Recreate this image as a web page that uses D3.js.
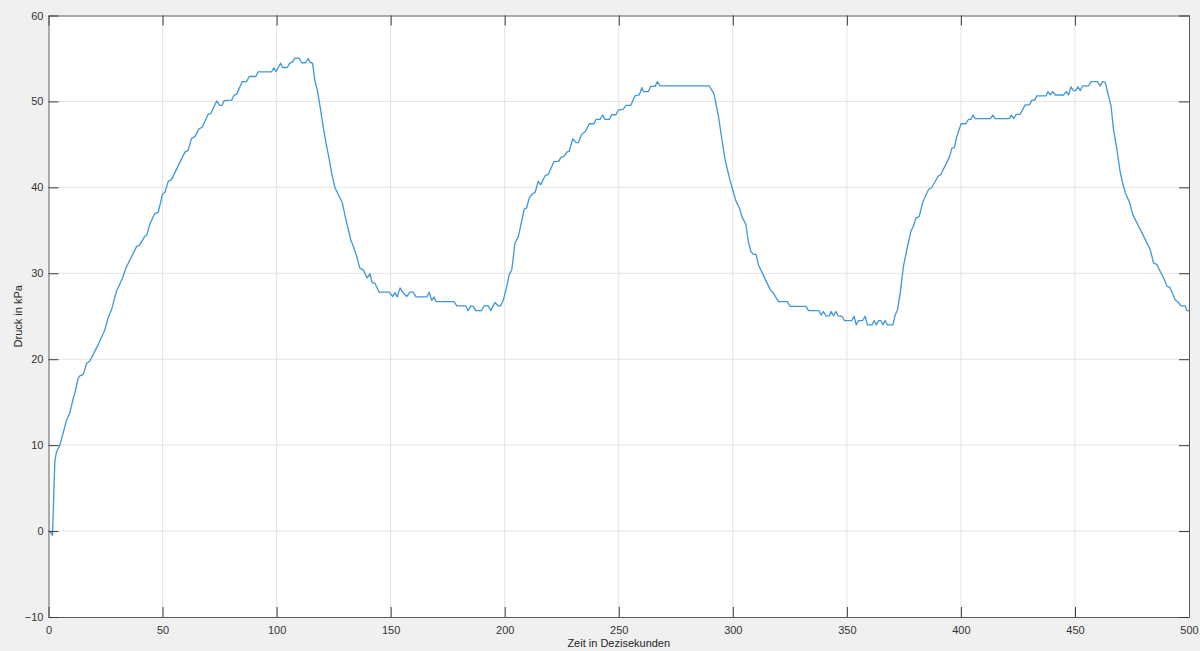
<!DOCTYPE html>
<html>
<head>
<meta charset="utf-8">
<script src="https://cdnjs.cloudflare.com/ajax/libs/d3/7.8.5/d3.min.js"></script>
<style>
  body { margin: 0; background: #f0f0f0; }
  svg { display: block; font-family: "Liberation Sans", Arial, sans-serif; }
  .tick text { fill: #333; font-size: 11px; }
</style>
</head>
<body>
<svg id="chart" width="1200" height="651"></svg>
<script>
// Zeit in Dezisekunden / Druck in kPa
const zeit = [0, 0.6, 1.75, 2.8, 3.5, 5, 6.4, 7.9, 9.3, 10.8, 11.5, 13, 13.7, 15.2, 16.7, 18.1, 21.8, 24.7, 26.1, 27.6, 29.8, 32.5, 33.9, 38.6, 40, 42.2, 43, 44.4, 46.6, 48.1, 50, 51, 52.5, 53.9, 59.8, 61.2, 62.7, 64.2, 65.9, 67.4, 70, 71.2, 73.7, 75.1, 76.1, 77, 80.3, 81.3, 82.5, 84.9, 86.8, 88, 90.9, 91.9, 97.8, 98.8, 99.7, 101.8, 102.6, 104.7, 105.8, 107, 108, 109.9, 111, 112.7, 113.9, 114.6, 115.8, 116.8, 117.8, 119, 120.4, 121.9, 123.1, 124.1, 125.6, 127, 128.8, 130.7, 132.5, 133.9, 135.1, 136.5, 138, 139.7, 140.9, 141.9, 143.1, 145, 149.4, 150.9, 151.9, 152.9, 154.1, 155.3, 157, 158.5, 159.9, 161.1, 165.8, 166.9, 168, 169, 169.9, 177.8, 179, 183, 184, 185.2, 186.2, 187.3, 189.9, 190.9, 192.8, 193.9, 195.7, 197.2, 198.2, 199.4, 200.9, 202, 203.1, 204.5, 206, 208.6, 209.6, 210.8, 212.1, 213.3, 214.7, 215.8, 217.7, 219.1, 221.6, 223.8, 224.6, 226, 227.2, 228.3, 229.8, 231.3, 232.3, 233.8, 235.2, 237.1, 239.2, 240, 241.8, 243, 244, 245.9, 246.9, 248.8, 249.8, 252, 253.2, 255.3, 257.1, 259, 260.1, 260.8, 263, 264, 265.9, 266.9, 268.1, 289.7, 291.8, 293.7, 295.2, 296.6, 298.5, 300.3, 301.4, 302.9, 304.2, 305.7, 306.8, 307.9, 309, 310.2, 311.2, 316.4, 317.8, 320, 323.9, 325.1, 332.1, 333.2, 337.8, 338.7, 339.7, 340.9, 342.4, 343.1, 344.1, 345.2, 346.1, 347.8, 349, 352.2, 353.2, 354.1, 355.1, 357, 358, 359, 361, 362, 362.9, 363.9, 364.9, 365.8, 366.8, 367.8, 370.2, 371.2, 372.2, 373.4, 374.8, 376.3, 378.1, 379.2, 380.3, 381.7, 383.2, 385.8, 387, 390.2, 391.2, 395, 396.1, 397.1, 398.2, 400.1, 402.2, 403.3, 404.4, 405.3, 406.3, 412.9, 414, 415, 421.2, 422.1, 423.1, 424.3, 426, 428.2, 430.1, 431.1, 432.3, 433.3, 437.4, 438.2, 439.2, 440.2, 441.4, 445, 446.2, 447.2, 448.2, 449.4, 450.4, 451.3, 452.3, 453.3, 456, 457, 459.9, 461.1, 462.1, 463.3, 464.7, 465.8, 466.9, 468.4, 469.9, 471.1, 472.1, 474, 475.4, 477.2, 479.4, 481.6, 483, 484.5, 486, 487.4, 488.9, 490.4, 491.5, 494, 495.4, 496.5, 498.4, 499.1, 500];
const druck = [0, 0, -0.5, 8.2, 9.2, 10, 11.4, 12.9, 13.7, 15.4, 16, 17.8, 18.05, 18.2, 19.5, 19.8, 21.7, 23.4, 24.8, 25.75, 27.9, 29.45, 30.6, 33.1, 33.3, 34.3, 34.4, 35.7, 36.95, 37.1, 39.2, 39.4, 40.7, 40.9, 44.1, 44.3, 45.7, 45.9, 46.8, 47, 48.5, 48.6, 50.05, 49.55, 49.55, 50.1, 50.15, 50.7, 50.85, 52.3, 52.3, 52.9, 52.9, 53.45, 53.45, 53.9, 53.45, 54.45, 53.95, 53.95, 54.45, 54.6, 55.05, 55.05, 54.5, 54.5, 55, 54.6, 54.4, 52.4, 51.4, 49.5, 47.1, 44.8, 43.25, 41.7, 39.95, 39.2, 38.2, 35.9, 33.9, 32.95, 32, 30.6, 30.4, 29.45, 29.95, 28.9, 28.85, 27.8, 27.8, 27.3, 27.75, 27.25, 28.3, 27.8, 27.3, 27.8, 27.8, 27.25, 27.25, 27.8, 26.85, 27.25, 26.7, 26.7, 26.2, 26.2, 25.65, 26.2, 26.15, 25.65, 25.65, 26.2, 26.2, 25.65, 26.6, 26.2, 26.2, 26.9, 28.45, 29.85, 30.4, 33.5, 34.3, 37.5, 37.6, 38.8, 39.25, 39.4, 40.7, 40.3, 41.35, 41.5, 43, 43.05, 43.5, 43.6, 44.1, 44.2, 45.65, 45.2, 45.2, 46.2, 46.45, 47.4, 47.4, 47.9, 47.9, 48.4, 47.9, 47.9, 48.45, 48.45, 49, 49.1, 49.55, 49.55, 50.65, 50.75, 51.6, 51.15, 51.15, 51.75, 51.75, 52.3, 51.8, 51.8, 50.85, 48.3, 45.6, 43.25, 41.1, 39.4, 38.4, 37.6, 36.45, 35.7, 33.7, 32.55, 32.2, 32.2, 31, 28.1, 27.7, 26.7, 26.7, 26.15, 26.15, 25.65, 25.65, 25.15, 25.55, 25.05, 25.05, 25.55, 25.05, 25.55, 25.05, 25, 24.5, 24.5, 25, 24, 24.5, 24.5, 25, 24, 24, 24.5, 24, 24.5, 24.5, 24, 24.5, 24, 24, 25.15, 25.75, 27.7, 30.8, 32.75, 34.9, 35.5, 36.45, 36.6, 38.2, 39.75, 39.9, 41.35, 41.5, 43.55, 44.6, 44.6, 45.9, 47.4, 47.4, 47.9, 47.9, 48.4, 48, 48, 48.4, 48, 48, 48.4, 48, 48.5, 48.5, 49.6, 49.6, 50.15, 50.15, 50.65, 50.65, 51.15, 50.75, 51.15, 50.75, 50.75, 51.15, 50.75, 51.7, 51.25, 51.25, 51.7, 51.25, 51.8, 51.8, 52.3, 52.3, 51.8, 52.3, 52.2, 50.65, 49.5, 46.75, 44.4, 41.7, 40.3, 39.35, 38.2, 36.8, 35.85, 34.7, 33.5, 32.75, 31.2, 31, 30.2, 29.45, 28.45, 28.4, 26.9, 26.6, 26.2, 26.2, 25.65, 25.65];

const xTicks = [0, 50, 100, 150, 200, 250, 300, 350, 400, 450, 500];
const yTicks = [-10, 0, 10, 20, 30, 40, 50, 60];

const plotL = 48.5, plotR = 1189, plotT = 15.5, plotB = 617;

const svg = d3.select("#chart");

const x = d3.scaleLinear().domain([0, 500]).range([plotL, plotR]);
const y = d3.scaleLinear().domain([-10, 60]).range([plotB, plotT]);

// plot area
svg.append("rect")
  .attr("x", plotL).attr("y", plotT)
  .attr("width", plotR - plotL).attr("height", plotB - plotT)
  .attr("fill", "#fff");

// grid
svg.append("g").selectAll("line").data(xTicks.slice(1, -1)).enter().append("line")
  .attr("x1", d => x(d)).attr("x2", d => x(d))
  .attr("y1", plotT).attr("y2", plotB)
  .attr("stroke", "#e3e3e3").attr("stroke-width", 1);
svg.append("g").selectAll("line").data(yTicks.slice(1, -1)).enter().append("line")
  .attr("y1", d => y(d)).attr("y2", d => y(d))
  .attr("x1", plotL).attr("x2", plotR)
  .attr("stroke", "#e3e3e3").attr("stroke-width", 1);

// the measured line
const line = d3.line().x((d, i) => x(zeit[i])).y(d => y(d));
svg.append("path")
  .datum(druck)
  .attr("d", line)
  .attr("fill", "none")
  .attr("stroke", "#3f97d8")
  .attr("stroke-width", 1.3)
  .attr("stroke-linejoin", "round");

// axes, ticks pointing inward like matlab
function styleAxis(g) {
  g.select(".domain").attr("stroke", "#5a5a5a");
  g.selectAll(".tick line").attr("stroke", "#3a3a3a");
}

svg.append("g")
  .attr("transform", `translate(0,${plotB})`)
  .call(d3.axisBottom(x).tickValues(xTicks).tickSizeInner(-10).tickSizeOuter(0).tickPadding(4))
  .call(styleAxis)
  .call(g => g.selectAll(".tick text").attr("y", 9).attr("dy", "0.71em"));

svg.append("g")
  .attr("transform", `translate(0,${plotT})`)
  .call(d3.axisTop(x).tickValues(xTicks).tickSizeInner(-10).tickSizeOuter(0).tickFormat(""))
  .call(styleAxis);

svg.append("g")
  .attr("transform", `translate(${plotL},0)`)
  .call(d3.axisLeft(y).tickValues(yTicks).tickSizeInner(-10).tickSizeOuter(0))
  .call(styleAxis)
  .call(g => g.selectAll(".tick text").attr("x", -5));

svg.append("g")
  .attr("transform", `translate(${plotR},0)`)
  .call(d3.axisRight(y).tickValues(yTicks).tickSizeInner(-10).tickSizeOuter(0).tickFormat(""))
  .call(styleAxis);

// labels
svg.append("text")
  .attr("x", (plotL + plotR) / 2).attr("y", 647)
  .attr("text-anchor", "middle")
  .attr("font-size", 11).attr("fill", "#262626")
  .text("Zeit in Dezisekunden");

svg.append("text")
  .attr("transform", `translate(22,${(plotT + plotB) / 2}) rotate(-90)`)
  .attr("text-anchor", "middle")
  .attr("font-size", 11).attr("fill", "#262626")
  .text("Druck in kPa");
</script>
</body>
</html>
